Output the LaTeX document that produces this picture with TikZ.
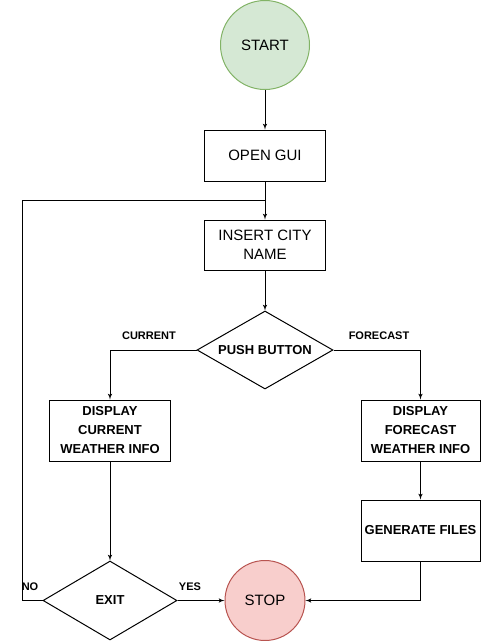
\documentclass[tikz,border=0pt]{standalone}
\usepackage{fontspec}
\setmainfont{Liberation Sans}
\usepackage{tikz}
\usetikzlibrary{positioning}
\usetikzlibrary{shapes, backgrounds}
\usetikzlibrary{arrows}
\usetikzlibrary{calc}
\tikzstyle{line} = [draw, -latex']
\definecolor{vertfond}{HTML}{D5E8D4}
\definecolor{vertbord}{HTML}{82B366}
\definecolor{rougefond}{HTML}{F8CECC}
\definecolor{rougebord}{HTML}{B85450}

\begin{document}
\begin{tikzpicture}[x=1pt, y=-1pt, line width=1pt,
				terminal/.style = {circle, draw, inner sep=0pt},
				process/.style = {rectangle, draw, align=center, inner sep=0pt,
					minimum width=121pt},
				decision/.style = {diamond, draw, inner sep=0pt, font=\fontsize{13}{16}\selectfont\bfseries},
				tag/.style = {font=\fontsize{11}{13}\selectfont\bfseries}]
				
				\useasboundingbox (0,0) rectangle (481,641);
				
				% Start
				\node[terminal, minimum size=89pt, fill=vertfond, draw=vertbord,
					font=\fontsize{15}{18}\selectfont] (start) at (265,45) {START};
				
				% Open the window
				\node[process, minimum height=51pt, font=\fontsize{15}{18}\selectfont] (gui) at (265,155.5) {OPEN GUI};
				
				% City input
				\node[process, minimum height=50pt, font=\fontsize{15}{19}\selectfont] (city) at (265,245) {INSERT CITY\\NAME};
				
				% Choice
				\node[decision, shape aspect=3.2, minimum width=136pt, minimum height=78pt] (push) at (265,350) {PUSH BUTTON};
				
				% Both branches
				\node[process, minimum height=61pt, font=\fontsize{13}{19}\selectfont\bfseries] (cur) at (110,430.5) {DISPLAY\\CURRENT\\WEATHER INFO};
				\node[process, minimum width=119pt, minimum height=61pt, font=\fontsize{13}{19}\selectfont\bfseries] (fore) at (420.5,430.5) {DISPLAY\\FORECAST\\WEATHER INFO};
				\node[process, minimum width=119pt, minimum height=61pt, font=\fontsize{13}{16}\selectfont\bfseries] (gen) at (420.5,530.5) {GENERATE FILES};
				
				% Exit test
				\node[decision, shape aspect=1.7, minimum width=134pt, minimum height=79pt] (exit) at (110,600.5) {EXIT};
				
				% Stop
				\node[terminal, minimum size=80pt, fill=rougefond, draw=rougebord,
					font=\fontsize{15}{18}\selectfont] (stop) at (265,600.5) {STOP};
				
				% Loop back
				\coordinate (join) at (265,200);
				\coordinate (back) at (22,200);
				
				% Arrows
				\path[line] (start) -- (gui);
				\path[line] (gui) -- (city);
				\path[line] (city) -- (push);
				\path[line] (push.west) -| (cur.north);
				\path[line] (push.east) -| (fore.north);
				\path[line] (fore) -- (gen);
				\path[line] (cur) -- (exit);
				\path[line] (exit.east) -- (stop.west);
				\path[line] (gen.south) |- (stop.east);
				\draw (exit.west) -- (exit.west -| back) -- (back) -- (join);
				
				% Labels
				\node[tag] (lcur) at (149,336) {CURRENT};
				\node[tag] (lfore) at (379,336) {FORECAST};
				\node[tag] (lyes) at (190,587) {YES};
				\node[tag] (lno) at (30,587) {NO};
				
			\end{tikzpicture}
\end{document}
